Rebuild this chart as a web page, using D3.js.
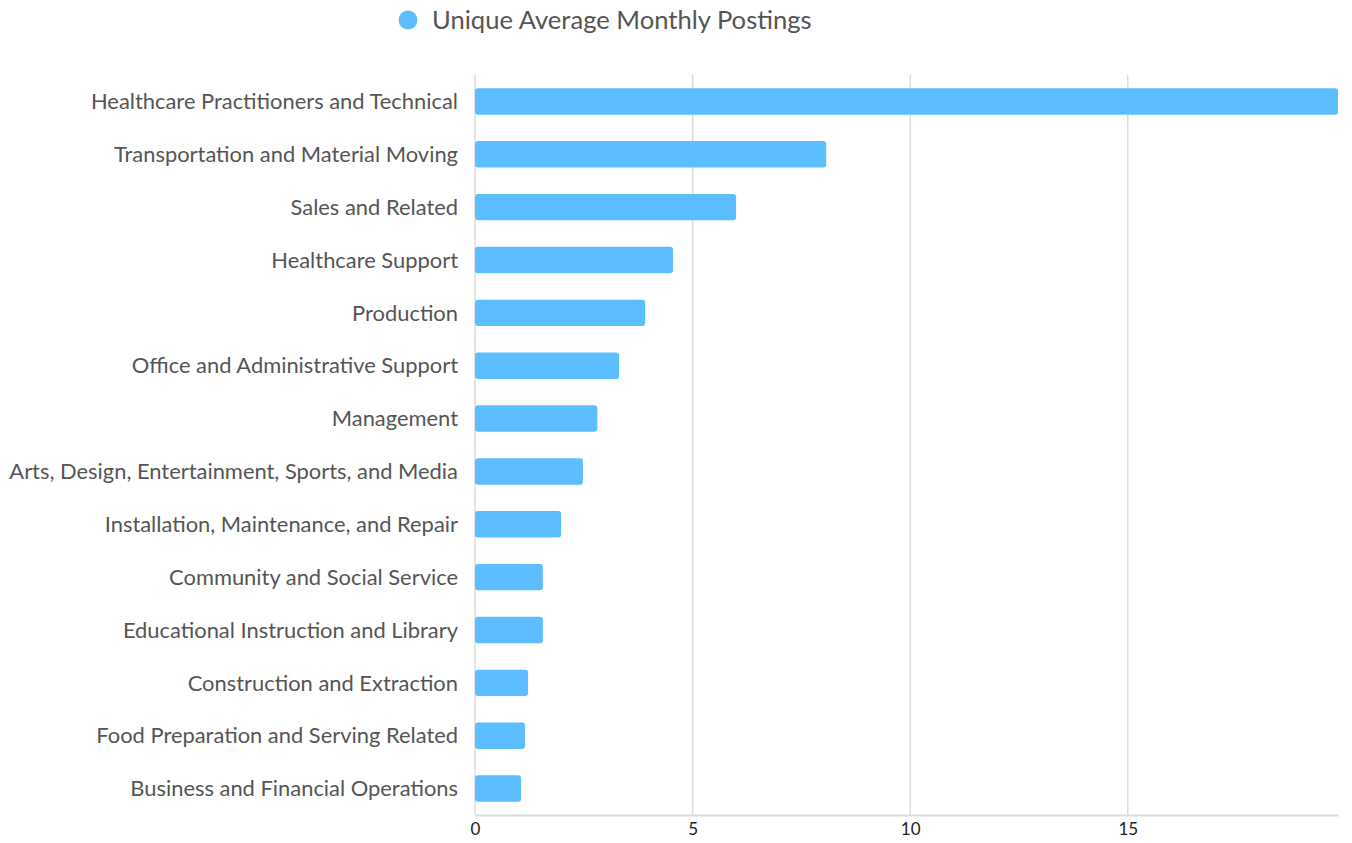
<!DOCTYPE html>
<html>
<head>
<meta charset="utf-8">
<script src="https://cdn.jsdelivr.net/npm/d3@7"></script>
<style>
  html, body { margin: 0; padding: 0; background: #fff; }
  svg { display: block; font-family: Lato, "Open Sans", sans-serif; }
</style>
</head>
<body>
<svg id="chart" width="1352" height="843"></svg>
<script>
// Occupation groups and their unique average monthly postings
const categories = [
  "Healthcare Practitioners and Technical",
  "Transportation and Material Moving",
  "Sales and Related",
  "Healthcare Support",
  "Production",
  "Office and Administrative Support",
  "Management",
  "Arts, Design, Entertainment, Sports, and Media",
  "Installation, Maintenance, and Repair",
  "Community and Social Service",
  "Educational Instruction and Library",
  "Construction and Extraction",
  "Food Preparation and Serving Related",
  "Business and Financial Operations"
];
const postings = [19.83, 8.07, 6.0, 4.55, 3.91, 3.31, 2.81, 2.48, 1.98, 1.56, 1.56, 1.22, 1.15, 1.06];
const xTicks = [0, 5, 10, 15];
const seriesName = "Unique Average Monthly Postings";

const svg = d3.select("#chart");
const margin = { top: 75, right: 14, bottom: 28, left: 475 };
const width = 1352, height = 843;

const x = d3.scaleLinear()
  .domain([0, d3.max(postings)])
  .range([margin.left, width - margin.right]);

const y = d3.scaleBand()
  .domain(categories)
  .range([margin.top, height - margin.bottom])
  .paddingInner(0.5)
  .paddingOuter(0.25);

// vertical gridlines
svg.append("g")
  .selectAll("line")
  .data(xTicks)
  .join("line")
  .attr("x1", d => x(d)).attr("x2", d => x(d))
  .attr("y1", margin.top).attr("y2", height - margin.bottom)
  .attr("stroke", "#dcdcdc")
  .attr("stroke-width", 1.5);

// bottom axis
const xAxis = svg.append("g")
  .attr("transform", `translate(0,${height - margin.bottom})`)
  .call(d3.axisBottom(x).tickValues(xTicks).tickSize(0).tickPadding(8));
xAxis.select(".domain").attr("stroke", "#dcdcdc").attr("stroke-width", 2);
xAxis.selectAll("text")
  .attr("font-family", "Lato, sans-serif")
  .attr("font-size", 17)
  .attr("fill", "#222");

// bars
svg.append("g")
  .selectAll("rect")
  .data(categories.map((c, i) => ({ c, v: postings[i] })))
  .join("rect")
  .attr("x", x(0))
  .attr("y", d => y(d.c))
  .attr("width", d => x(d.v) - x(0))
  .attr("height", y.bandwidth())
  .attr("rx", 3)
  .attr("fill", "#5cbdff");

// category labels
svg.append("g")
  .selectAll("text")
  .data(categories)
  .join("text")
  .attr("x", margin.left - 17)
  .attr("y", d => y(d) + y.bandwidth() / 2)
  .attr("dy", "0.35em")
  .attr("text-anchor", "end")
  .attr("font-size", 21.9)
  .attr("fill", "#555")
  .text(d => d);

// legend
const legend = svg.append("g").attr("transform", "translate(408,20)");
legend.append("circle").attr("r", 9.5).attr("fill", "#5cbdff");
legend.append("text")
  .attr("x", 24)
  .attr("dy", "0.35em")
  .attr("font-size", 25.6)
  .attr("fill", "#555")
  .text(seriesName);
</script>
</body>
</html>
